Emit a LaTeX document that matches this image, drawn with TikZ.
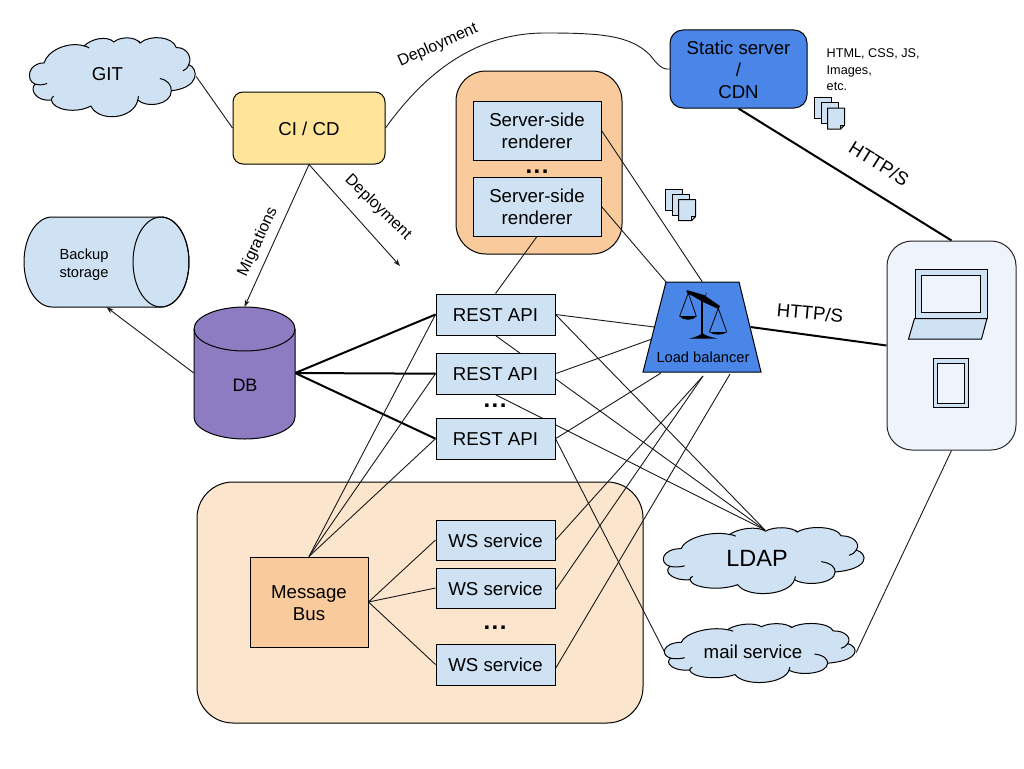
\documentclass[tikz,border=0pt]{standalone}
\usepackage{fontspec}
\setmainfont{Liberation Sans}
\usetikzlibrary{arrows.meta}
\pgfdeclarelayer{back}
\pgfdeclarelayer{lines}
\pgfsetlayers{back,lines,main}
\definecolor{lblue}{HTML}{CFE2F3}
\definecolor{lyellow}{HTML}{FFE599}
\definecolor{lorange}{HTML}{F9CB9C}
\definecolor{lpeach}{HTML}{FCE5CD}
\definecolor{mblue}{HTML}{4A86E8}
\definecolor{purp}{HTML}{8E7CC3}
\definecolor{clientbg}{HTML}{EFF4FC}
\tikzset{
  fa/.style={font=\fontsize{18.67}{22}\selectfont},
  fb/.style={font=\fontsize{14.67}{18}\selectfont},
  fc/.style={font=\fontsize{12.67}{16.5}\selectfont},
  fd/.style={font=\fontsize{16}{19}\selectfont},
  fe/.style={font=\fontsize{23.5}{28}\selectfont},
  dotsf/.style={font=\fontsize{24}{28}\selectfont\bfseries,anchor=base,inner sep=0pt},
  boxn/.style={draw=black,line width=1pt,inner sep=0pt,align=center,fa},
  apibox/.style={boxn,fill=lblue,minimum width=119pt,minimum height=41pt},
  ssrbox/.style={boxn,fill=lblue,minimum width=128pt,minimum height=59pt},
  ghost/.style={inner sep=0pt,align=center},
  thin line/.style={draw=black!90,line width=0.9pt},
  thick line/.style={draw=black,line width=2pt},
  arr/.style={thin line,-{Stealth[length=7pt,width=5pt]}},
  note/.style={inner sep=0pt,align=center,fd},
  shape line/.style={draw=black,line width=1pt},
}
\newcommand{\dn}[1]{\raisebox{-0.7pt}[\height][\depth]{#1}}
\newcommand{\threedots}{.\kern1.5pt.\kern1.5pt.}
\newcommand{\cloudshape}[4]{%
  \begin{scope}[shift={(#1,#2)},xscale=#3/505,yscale=#4/238,shift={(-60,-20)}]
    \path[shape line,fill=lblue] (103,98)
      .. controls (112,62) and (175,32) .. (225,47)
      .. controls (245,25) and (295,15) .. (315,35)
      .. controls (335,18) and (380,18) .. (395,38)
      .. controls (425,12) and (495,18) .. (505,52)
      .. controls (535,50) and (555,80) .. (543,103)
      .. controls (573,115) and (578,172) .. (490,182)
      .. controls (490,225) and (415,235) .. (388,210)
      .. controls (375,268) and (270,278) .. (245,228)
      .. controls (200,252) and (130,240) .. (125,210)
      .. controls (80,215) and (58,180) .. (75,162)
      .. controls (46,150) and (54,98) .. (103,98) -- cycle;
    \draw[shape line] (75,162) .. controls (85,165) and (100,165) .. (112,160);
    \draw[shape line] (455,145) .. controls (480,150) and (490,165) .. (490,182);
    \draw[shape line] (543,103) .. controls (540,113) and (532,120) .. (525,122);
    \draw[shape line] (225,47) .. controls (230,48) and (236,50) .. (240,53);
    \draw[shape line] (395,38) .. controls (393,36) and (392,34) .. (390,32);
    \draw[shape line] (125,210) .. controls (125,205) and (128,200) .. (132,198);
    \draw[shape line] (388,210) .. controls (388,206) and (388,202) .. (390,198);
  \end{scope}}
\newcommand{\onedoc}[2]{%
  \path[shape line,fill=lblue,line join=round] (#1,#2) -- ++(17,0) -- ++(0,21) -- ++(-4,0) -- ++(-13,0) -- cycle;}
\newcommand{\lastdoc}[2]{%
  \path[shape line,fill=lblue,line join=round] (#1,#2) -- ++(17,0) -- ++(0,17) -- ++(-4,4) -- ++(-13,0) -- cycle;
  \draw[line width=0.7pt] (#1+13,#2+21) -- ++(0,-4) -- ++(4,0);}
\newcommand{\docstack}[2]{%
  \onedoc{#1}{#2}\onedoc{#1+6.5}{#2+5.3}\lastdoc{#1+13}{#2+10.6}}
\begin{document}
\begin{tikzpicture}[x=1pt,y=-1pt]
\useasboundingbox (0,0) rectangle (1024,768);

% group backgrounds
\begin{pgfonlayer}{back}
  \fill[white] (0,0) rectangle (1024,768);
  \path[shape line,fill=lpeach,rounded corners=36pt] (197,482) rectangle (643,723);
  \path[shape line,fill=lorange,rounded corners=30pt] (456,71) rectangle (622,254);
\end{pgfonlayer}

% cylinders
\path[shape line,fill=lblue] (52,217) arc[start angle=90,end angle=270,x radius=28pt,y radius=45pt]
  -- (161,307) arc[start angle=-90,end angle=90,x radius=28pt,y radius=45pt] -- cycle;
\draw[shape line] (161,262) ellipse [x radius=28pt,y radius=45pt];
\node[ghost,minimum width=165pt,minimum height=90pt] (backup) at (106.5,262) {};
\node[ghost,fb] (backuptext) at (84,264.5) {Backup\\storage};

\path[shape line,fill=purp] (194,417) arc[start angle=180,end angle=360,x radius=50.5pt,y radius=22pt]
  -- (295,329) arc[start angle=0,end angle=180,x radius=50.5pt,y radius=22pt] -- cycle;
\draw[shape line] (194,329) arc[start angle=180,end angle=360,x radius=50.5pt,y radius=22pt];
\node[ghost,minimum width=101pt,minimum height=132pt] (db) at (244.5,373) {};
\node[ghost,font=\fontsize{18}{22}\selectfont] (dbtext) at (245,385) {DB};

% clouds
\cloudshape{30}{37}{166}{79}
\node[ghost,minimum width=166pt,minimum height=79pt,fa] (git) at (113,76.5) {};
\node[ghost,fa] (gittext) at (107.5,74) {GIT};
\cloudshape{664}{527}{201}{66}
\node[ghost,minimum width=201pt,minimum height=66pt] (ldap) at (764.5,560) {};
\node[ghost,fe] (ldaptext) at (757,558) {LDAP};
\cloudshape{665}{623}{191}{59}
\node[ghost,minimum width=191pt,minimum height=59pt] (mail) at (760.5,652.5) {};
\node[ghost,fa] (mailtext) at (753,652) {mail service};

% boxes
\node[boxn,fill=lyellow,rounded corners=10pt,minimum width=152pt,minimum height=72pt] (ci) at (309,128) {\dn{CI / CD}};
\node[boxn,fill=mblue,rounded corners=13pt,minimum width=137pt,minimum height=78pt] (static) at (738.5,69) {\dn{Static server}\\\dn{/}\\\dn{CDN}};
\node[ssrbox] (ssrA) at (537,130.5) {\dn{Server-side}\\\dn{renderer}};
\node[ssrbox] (ssrB) at (537,206.5) {\dn{Server-side}\\\dn{renderer}};
\node[apibox] (restA) at (495.5,314.5) {\dn{REST API}};
\node[apibox] (restB) at (495.5,373.7) {\dn{REST API}};
\node[apibox] (restC) at (495.5,438.7) {\dn{REST API}};
\node[apibox,minimum height=40pt] (wsA) at (495.5,540) {\dn{WS service}};
\node[apibox,minimum height=40pt] (wsB) at (495.5,588) {\dn{WS service}};
\node[apibox] (wsC) at (495.5,664.5) {\dn{WS service}};
\node[boxn,fill=lorange,minimum width=118pt,minimum height=90pt] (bus) at (309,602) {\dn{Message}\\\dn{Bus}};
\node[dotsf] (dotsA) at (537,173) {\threedots};
\node[dotsf] (dotsB) at (495,407) {\threedots};
\node[dotsf] (dotsC) at (495,629) {\threedots};

% load balancer
\path[shape line,fill=mblue,line join=miter] (666,282) -- (739,282) -- (761,372) -- (643,372) -- cycle;
\node[ghost,minimum width=96pt,minimum height=90pt] (lb) at (702.3,327) {};
\node[ghost,fb] (lbtext) at (703,357) {Load balancer};
% scales icon
\begin{scope}
  \fill[black] (686.5,290) -- (704,295) -- (720,306) -- (718.5,309) -- (703,302) -- (686.5,292.5) -- cycle;
  \fill[black] (701.2,298) rectangle (703.4,337);
  \draw[black,line width=0.5pt] (706.5,293) -- (702.3,303);
  \fill[black] (689.5,338.5) .. controls (696,337) and (700,335.5) .. (702.3,333) .. controls (705,335.5) and (710,337) .. (717,338.5) -- cycle;
  \draw[black,line width=0.8pt,line join=round] (679.7,316) -- (688.3,293) -- (696.2,316);
  \fill[black] (679,316) .. controls (683,321) and (693,321) .. (697,316) -- cycle;
  \draw[black,line width=0.8pt,line join=round] (709.5,332) -- (718.3,308.3) -- (726.7,332);
  \fill[black] (709,332) .. controls (713,335.5) and (723,335.5) .. (727,332) -- cycle;
\end{scope}

% client device
\node[draw=black!85,line width=1pt,fill=clientbg,rounded corners=25pt,inner sep=0pt,minimum width=129pt,minimum height=209pt] (client) at (951.5,345.5) {};
\path[shape line,fill=lblue] (915.5,269.5) rectangle (987,318.5);
\path[shape line,fill=clientbg] (921.5,275.5) rectangle (980.5,312.5);
\path[shape line,fill=lblue] (914.5,318.5) -- (987,318.5) -- (981.5,339) -- (908.5,339) -- cycle;
\path[shape line,fill=lblue] (933.5,358.5) rectangle (968.5,407.5);
\path[shape line,fill=clientbg] (937.5,363.5) rectangle (964.5,403.5);

% files and texts
\docstack{814.5}{97.5}
\docstack{665.5}{189}
\node[ghost,fc,align=left,anchor=north west] (assets) at (826.5,48.5) {HTML, CSS, JS,\\Images,\\etc.};
\node[note,rotate=24] (lblDepA) at (438,45.5) {Deployment};
\node[note,rotate=-44] (lblDepB) at (378,207.5) {Deployment};
\node[note,rotate=65] (lblMig) at (258,242) {Migrations};
\node[ghost,fa,rotate=-32] (lblHttpA) at (879,163.5) {HTTP/S};
\node[ghost,fa,rotate=-5] (lblHttpB) at (810,313) {HTTP/S};

% free ends
\coordinate (depEnd) at (400,266);
\coordinate (ldapT) at (765,530);
\coordinate (lbTL) at (666,282);
\coordinate (lbR) at (652,339);
\coordinate (lbA) at (661,373);
\coordinate (lbB) at (703,376);
\coordinate (lbC) at (730,374);

% connectors
\begin{pgfonlayer}{lines}
  \draw[thin line] (git.east) -- (ci.west);
  \draw[thin line] (ci.east) .. controls (420,80) and (470,33) .. (545,33)
     .. controls (600,33) and (630,35) .. (650,55)
     .. controls (657,64) and (662,70) .. (static.west);
  \draw[arr] (ci.south) -- (db.north);
  \draw[arr] (ci.south) -- (depEnd);
  \draw[arr] (db.west) -- (backup.south);
  \draw[thick line] (db.east) -- (restA.west);
  \draw[thick line] (db.east) -- (restB.west);
  \draw[thick line] (db.east) -- (restC.west);
  \draw[thin line] (bus.north) -- (restA.west);
  \draw[thin line] (bus.north) -- (restB.west);
  \draw[thin line] (bus.north) -- (restC.west);
  \draw[thin line] (bus.east) -- (wsA.west);
  \draw[thin line] (bus.east) -- (wsB.west);
  \draw[thin line] (bus.east) -- (wsC.west);
  \draw[thin line] (ssrB.south) -- (restA.north);
  \draw[thin line] (ssrA.east) -- (lb.north);
  \draw[thin line] (ssrB.east) -- (lbTL);
  \draw[thin line] (restA.east) -- (lb.west);
  \draw[thin line] (restB.east) -- (lbR);
  \draw[thin line] (restC.east) -- (lbA);
  \draw[thin line] (wsA.east) -- (lbB);
  \draw[thin line] ([yshift=-2pt]wsB.east) -- (lbB);
  \draw[thin line] ([yshift=-4pt]wsC.east) -- (lbC);
  \draw[thin line] (restA.east) -- (ldapT);
  \draw[thin line] (restA.south) -- (ldapT);
  \draw[thin line] (restB.south) -- (ldapT);
  \draw[thin line] (restC.east) -- (mail.west);
  \draw[thin line] (client.south) -- (mail.east);
  \draw[thick line] (static.south) -- (client.north);
  \draw[thick line] (lb.east) -- (client.west);
\end{pgfonlayer}
\end{tikzpicture}
\end{document}
